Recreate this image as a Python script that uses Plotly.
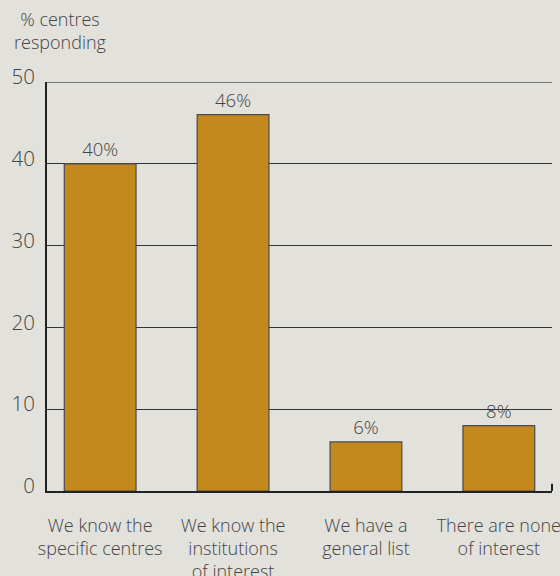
import plotly.graph_objects as go

categories = [
    "We know the<br>specific centres",
    "We know the<br>institutions<br>of interest",
    "We have a<br>general list",
    "There are none<br>of interest",
]
values = [40, 46, 6, 8]
value_labels = ["40%", "46%", "6%", "8%"]
y_ticks = [0, 10, 20, 30, 40, 50]

bg = "#e2e1dc"
bar_color = "#c4891e"
text_color = "#444444"
font_family = "Open Sans, Lato, sans-serif"

fig = go.Figure(
    go.Bar(
        x=list(range(len(categories))),
        y=values,
        width=0.54,
        marker=dict(color=bar_color, line=dict(color="#4a4a4a", width=1.2)),
        text=value_labels,
        textposition="outside",
        cliponaxis=False,
        textfont=dict(family=font_family, size=18.5, color=text_color, weight=300),
    )
)

fig.update_layout(
    width=560,
    height=576,
    margin=dict(l=47, r=8, t=82, b=85),
    paper_bgcolor=bg,
    plot_bgcolor=bg,
    showlegend=False,
    font=dict(family=font_family, color=text_color, weight=300),
    xaxis=dict(
        range=[-0.4, 3.4],
        tickmode="array",
        tickvals=list(range(len(categories))),
        ticktext=categories,
        tickfont=dict(size=18, color=text_color, weight=300),
        ticks="",
        ticklabelstandoff=17,
        ticklabeloverflow="allow",
        showgrid=False,
        showline=True,
        linecolor="#222222",
        linewidth=2,
        zeroline=False,
        automargin=False,
        fixedrange=True,
    ),
    yaxis=dict(
        range=[0, 50],
        tickmode="array",
        tickvals=y_ticks,
        tickfont=dict(size=20.5, color=text_color, weight=300),
        ticks="",
        ticklabelstandoff=6,
        ticklabelshift=-5,
        ticklabeloverflow="allow",
        showgrid=True,
        gridcolor="#333333",
        gridwidth=1,
        showline=True,
        linecolor="#222222",
        linewidth=2,
        zeroline=False,
        automargin=False,
        fixedrange=True,
    ),
    annotations=[
        dict(
            text="% centres<br>responding",
            xref="paper", yref="paper",
            x=-47 / 505 + 12 / 505, y=1,
            xanchor="left", yanchor="bottom",
            yshift=26,
            align="center",
            showarrow=False,
            font=dict(size=18, color=text_color, weight=300),
        )
    ],
    shapes=[
        # top gridline at the axis maximum
        dict(
            type="line", xref="paper", yref="y",
            x0=0, x1=1, y0=max(y_ticks), y1=max(y_ticks),
            line=dict(color="#555555", width=1.5),
            layer="below",
        ),
        # small end tick on the category axis
        dict(
            type="line", xref="paper", yref="paper",
            x0=1, x1=1, y0=0, y1=0.018,
            line=dict(color="#222222", width=2),
        ),
    ],
)

fig.write_html("out.html")
